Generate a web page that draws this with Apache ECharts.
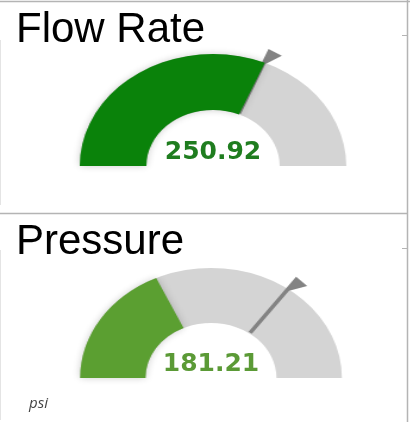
<!DOCTYPE html>
<html>
<head>
<meta charset="utf-8">
<script src="https://cdn.jsdelivr.net/npm/echarts@6/dist/echarts.min.js"></script>
<style>
html,body{margin:0;padding:0;background:#fff;}
#wrap{position:relative;width:410px;height:422px;overflow:hidden;background:#fff;}
#gauges{position:absolute;left:0;top:0;width:344.5px;height:422px;transform:scaleX(1.19);transform-origin:0 0;}
#overlay{position:absolute;left:0;top:0;width:410px;height:422px;}
</style>
</head>
<body>
<div id="wrap"><div id="gauges"></div><div id="overlay"></div></div>
<script>
// ---- data ----
const titles = ['Flow Rate', 'Pressure'];
const values = [250.92, 181.21];
const targets = [250, 350];
const maxValues = [400, 500];
const units = ['', 'psi'];
const fillColors = ['#0a820a', '#5b9f31'];
const textColors = ['#1f7d1f', '#5b9a36'];

// ---- layout (not data) ----
const SX = 1.19;
const layout = [
  { cx: 213, cy: 166, r: 112, panelTop: 1 },
  { cx: 211, cy: 378, r: 110, panelTop: 213 }
];

const gaugeChart = echarts.init(document.getElementById('gauges'), null, { renderer: 'canvas' });
const series = [];
layout.forEach((L, i) => {
  const center = [L.cx / SX, L.cy];
  const ring = L.r / 2;
  series.push({
    type: 'gauge',
    center: center,
    radius: L.r,
    startAngle: 180,
    endAngle: 0,
    min: 0,
    max: maxValues[i],
    progress: { show: true, width: ring, itemStyle: { color: fillColors[i], shadowBlur: 7, shadowColor: 'rgba(0,0,0,0.2)' } },
    axisLine: { lineStyle: { width: ring, color: [[1, '#d4d4d4']] } },
    splitLine: { show: false },
    axisTick: { show: false },
    axisLabel: { show: false },
    pointer: { show: false },
    anchor: { show: false },
    title: { show: false },
    detail: { show: false },
    silent: true,
    animation: false,
    data: [{ value: values[i] }]
  });
  // target needle with flag
  const inner = ring + 1;
  const tip = L.r + 14;
  const len = tip - inner;
  const flagW = 13;
  const lw = 3.5;
  series.push({
    type: 'gauge',
    center: center,
    radius: L.r,
    startAngle: 180,
    endAngle: 0,
    min: 0,
    max: maxValues[i],
    progress: { show: false },
    axisLine: { show: false },
    splitLine: { show: false },
    axisTick: { show: false },
    axisLabel: { show: false },
    pointer: {
      show: true,
      icon: 'path://M0 -126 L13 -124 L3.5 -111 L3.5 -57 L0 -57 Z',
      width: flagW,
      length: len,
      offsetCenter: [flagW / 2 - lw / 2, -inner],
      keepAspect: false,
      itemStyle: { color: '#838383' }
    },
    anchor: { show: false },
    title: { show: false },
    detail: { show: false },
    silent: true,
    animation: false,
    data: [{ value: targets[i] }]
  });
});
gaugeChart.setOption({ animation: false, series: series });

const overlay = echarts.init(document.getElementById('overlay'), null, { renderer: 'canvas' });
const g = [];
// frame lines
const lineStyle = { stroke: '#b4b4b4', lineWidth: 1.5 };
g.push({ type: 'line', shape: { x1: 0, y1: 1.5, x2: 410, y2: 1.5 }, style: lineStyle, silent: true });
g.push({ type: 'line', shape: { x1: 407.5, y1: 0, x2: 407.5, y2: 422 }, style: lineStyle, silent: true });
g.push({ type: 'line', shape: { x1: 0, y1: 213.5, x2: 408, y2: 213.5 }, style: lineStyle, silent: true });
g.push({ type: 'line', shape: { x1: 402, y1: 35.5, x2: 408, y2: 35.5 }, style: { stroke: '#b4b4b4', lineWidth: 1 }, silent: true });
g.push({ type: 'line', shape: { x1: 402, y1: 248.5, x2: 408, y2: 248.5 }, style: { stroke: '#b4b4b4', lineWidth: 1 }, silent: true });
g.push({ type: 'line', shape: { x1: 0.5, y1: 40, x2: 0.5, y2: 205 }, style: { stroke: '#e4e4e4', lineWidth: 1 }, silent: true });
g.push({ type: 'line', shape: { x1: 0.5, y1: 250, x2: 0.5, y2: 420 }, style: { stroke: '#e4e4e4', lineWidth: 1 }, silent: true });

layout.forEach((L, i) => {
  g.push({
    type: 'text', left: 16, top: L.panelTop + 8,
    style: { text: titles[i], font: '42px "Liberation Sans", Arial, sans-serif', fill: '#000' },
    silent: true
  });
  g.push({
    type: 'text', x: L.cx, y: L.cy - 14,
    style: {
      text: values[i].toFixed(2), font: 'bold 25px "DejaVu Sans", Verdana, sans-serif',
      fill: textColors[i], align: 'center', verticalAlign: 'middle'
    },
    silent: true
  });
  if (units[i]) {
    g.push({
      type: 'text', x: 29, y: L.cy + 26,
      style: { text: units[i], font: 'italic 15px "Open Sans", sans-serif', fill: '#444', align: 'left', verticalAlign: 'middle' },
      silent: true
    });
  }
});
overlay.setOption({ animation: false, graphic: g });
</script>
</body>
</html>
